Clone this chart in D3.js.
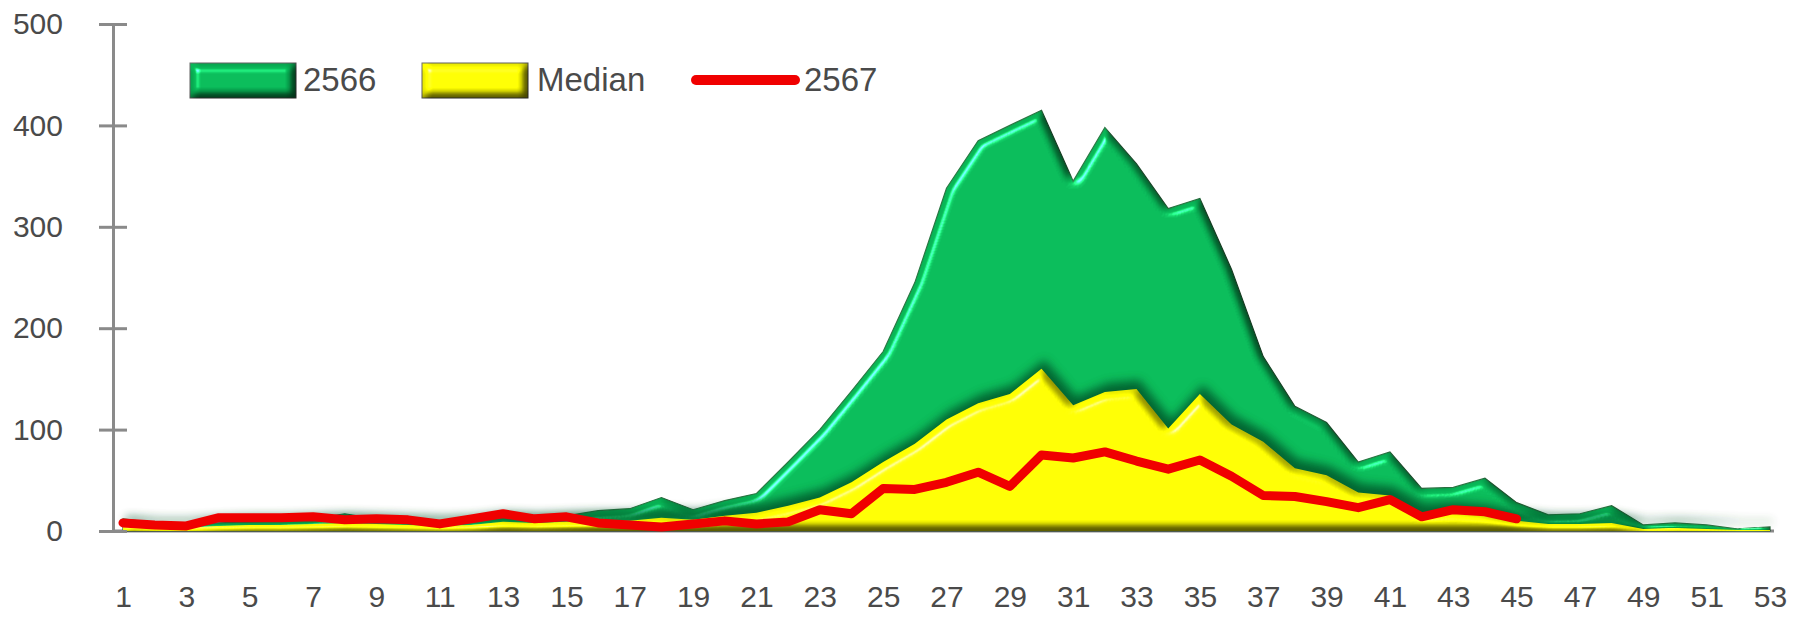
<!DOCTYPE html>
<html>
<head>
<meta charset="utf-8">
<script src="https://cdn.jsdelivr.net/npm/d3@7"></script>
<style>
  body { margin: 0; background: #fff; }
  #chart svg { display: block; }
</style>
</head>
<body>
<div id="chart"></div>
<script>
// week numbers on the x axis
const weeks = [1,2,3,4,5,6,7,8,9,10,11,12,13,14,15,16,17,18,19,20,21,22,23,24,25,26,27,
               28,29,30,31,32,33,34,35,36,37,38,39,40,41,42,43,44,45,46,47,48,49,50,51,52,53];
const xTickLabels = [1,3,5,7,9,11,13,15,17,19,21,23,25,27,29,31,33,35,37,39,41,43,45,47,49,51,53];
const yTickLabels = [0,100,200,300,400,500];

// series
const cases2566 = [12,8,5,8,9,10,12,17,12,10,8,10,14,12,15,20,22,33,21,30,37,68,100,138,177,245,338,
                   385,400,415,345,398,362,318,328,258,172,123,107,68,78,42,43,52,28,16,17,25,6,8,6,2,4];
const median = [5,3,3,5,6,6,7,8,7,6,5,6,9,8,9,10,10,13,11,15,18,25,33,48,68,86,110,
                126,135,160,124,137,140,101,135,105,88,62,55,38,35,18,20,17,10,7,7,8,2,3,2,1,1];
const cases2567 = [8,6,5,13,13,13,14,11,12,11,7,12,17,12,14,8,6,4,7,10,7,9,21,17,42,41,48,
                   58,44,75,72,78,69,61,70,54,35,34,29,23,31,14,21,19,12];

const legendItems = [
  { name: "2566", kind: "area", color: "#08b657" },
  { name: "Median", kind: "area", color: "#ffff00" },
  { name: "2567", kind: "line", color: "#f00000" }
];

const width = 1802, height = 617;
const axisX = 113;

const svg = d3.select("#chart").append("svg")
  .attr("width", width)
  .attr("height", height)
  .style("font-family", "'Liberation Sans', Arial, sans-serif");

const defs = svg.append("defs");

// bevel-ish lighting like the excel 3d format
function bevel(id, tint, blur, depth) {
  const f = defs.append("filter").attr("id", id)
    .attr("color-interpolation-filters", "sRGB")
    .attr("x", "-5%").attr("y", "-10%").attr("width", "110%").attr("height", "120%");
  f.append("feGaussianBlur").attr("in", "SourceAlpha").attr("stdDeviation", blur).attr("result", "b");
  const dl = f.append("feDiffuseLighting").attr("in", "b").attr("surfaceScale", depth)
    .attr("diffuseConstant", 1.17).attr("lighting-color", "#fff").attr("result", "d");
  dl.append("feDistantLight").attr("azimuth", 225).attr("elevation", 58);
  // keep the shading from going all the way to black
  const ct = f.append("feComponentTransfer").attr("in", "d").attr("result", "d2");
  ["feFuncR", "feFuncG", "feFuncB"].forEach(fn =>
    ct.append(fn).attr("type", "linear").attr("slope", 0.7).attr("intercept", 0.3));
  f.append("feComposite").attr("in", "SourceGraphic").attr("in2", "d2")
    .attr("operator", "arithmetic").attr("k1", 1).attr("k2", 0).attr("k3", 0).attr("k4", 0)
    .attr("result", "shaded");
  const sl = f.append("feSpecularLighting").attr("in", "b").attr("surfaceScale", depth)
    .attr("specularConstant", 1.1).attr("specularExponent", 35)
    .attr("lighting-color", tint).attr("result", "s");
  sl.append("feDistantLight").attr("azimuth", 225).attr("elevation", 40);
  f.append("feComposite").attr("in", "s").attr("in2", "SourceAlpha").attr("operator", "in").attr("result", "s2");
  f.append("feComposite").attr("in", "shaded").attr("in2", "s2")
    .attr("operator", "arithmetic").attr("k1", 0).attr("k2", 1).attr("k3", 1).attr("k4", 0);
}
bevel("bevelGreen", "#6dffb0", 4, 10);
bevel("bevelYellow", "#ffffa0", 4, 10);

defs.append("filter").attr("id", "soft")
  .attr("x", "-5%").attr("y", "-10%").attr("width", "110%").attr("height", "120%")
  .append("feGaussianBlur").attr("stdDeviation", 5);

const x = d3.scaleLinear().domain([1, 53]).range([123, 1770]);
const y = d3.scaleLinear().domain([0, 500]).range([531, 24]);

const area = d3.area()
  .x((d, i) => x(weeks[i]))
  .y0(y(0))
  .y1(d => y(d));

const line = d3.line()
  .x((d, i) => x(weeks[i]))
  .y(d => y(d));

// x axis baseline
svg.append("line")
  .attr("x1", axisX).attr("x2", x(53) + 4)
  .attr("y1", y(0)).attr("y2", y(0))
  .attr("stroke", "#8a8a8a").attr("stroke-width", 3);

// 2566 area (back)
svg.append("path")
  .datum(cases2566)
  .attr("d", area)
  .attr("fill", "#08b657")
  .attr("stroke", "#2b7a45")
  .attr("stroke-width", 1.2)
  .attr("filter", "url(#bevelGreen)");

// dark rim the median casts onto the green
svg.append("path")
  .datum(median)
  .attr("d", area)
  .attr("transform", "translate(3,-9)")
  .attr("fill", "#04562a")
  .attr("opacity", 0.85)
  .attr("filter", "url(#soft)");

// median area
svg.append("path")
  .datum(median)
  .attr("d", area)
  .attr("fill", "#ffff00")
  .attr("filter", "url(#bevelYellow)");

// 2567 line
svg.append("path")
  .datum(cases2567)
  .attr("d", line)
  .attr("fill", "none")
  .attr("stroke", "#f00000")
  .attr("stroke-width", 9)
  .attr("stroke-linejoin", "round")
  .attr("stroke-linecap", "round");

// y axis with ticks crossing the line
const yAxis = svg.append("g")
  .attr("transform", `translate(${axisX},0)`)
  .call(d3.axisLeft(y).tickValues(yTickLabels).tickSize(14).tickSizeOuter(0).tickPadding(36));
svg.append("g")
  .attr("transform", `translate(${axisX},0)`)
  .call(d3.axisRight(y).tickValues(yTickLabels).tickSize(14).tickSizeOuter(0).tickFormat(""));

svg.selectAll(".domain").attr("stroke", "#8a8a8a").attr("stroke-width", 3);
svg.selectAll(".tick line").attr("stroke", "#8a8a8a").attr("stroke-width", 3);
yAxis.selectAll("text")
  .attr("font-size", 30)
  .attr("font-family", "'Liberation Sans', Arial, sans-serif")
  .attr("fill", "#4a4a4a");

// x axis labels
const xAxis = svg.append("g")
  .attr("transform", `translate(0,${y(0)})`)
  .call(d3.axisBottom(x).tickValues(xTickLabels).tickSize(0).tickPadding(55));
xAxis.select(".domain").remove();
xAxis.selectAll("text")
  .attr("font-size", 30)
  .attr("font-family", "'Liberation Sans', Arial, sans-serif")
  .attr("fill", "#4a4a4a");

// legend
const legendX = [190, 422, 691];
const legend = svg.append("g");
legendItems.forEach((item, i) => {
  const g = legend.append("g").attr("transform", `translate(${legendX[i]},80)`);
  if (item.kind === "area") {
    g.append("rect")
      .attr("x", 0).attr("y", -17).attr("width", 106).attr("height", 35)
      .attr("fill", item.color)
      .attr("stroke", "#6b6b6b").attr("stroke-width", 1)
      .attr("filter", i === 0 ? "url(#bevelGreen)" : "url(#bevelYellow)");
  } else {
    g.append("line")
      .attr("x1", 5).attr("x2", 104).attr("y1", 0).attr("y2", 0)
      .attr("stroke", item.color).attr("stroke-width", 10).attr("stroke-linecap", "round");
  }
  g.append("text")
    .attr("x", i === 1 ? 115 : 113)
    .attr("y", 0)
    .attr("dy", "0.32em")
    .attr("font-size", 33)
    .attr("fill", "#4a4a4a")
    .text(item.name);
});
</script>
</body>
</html>
